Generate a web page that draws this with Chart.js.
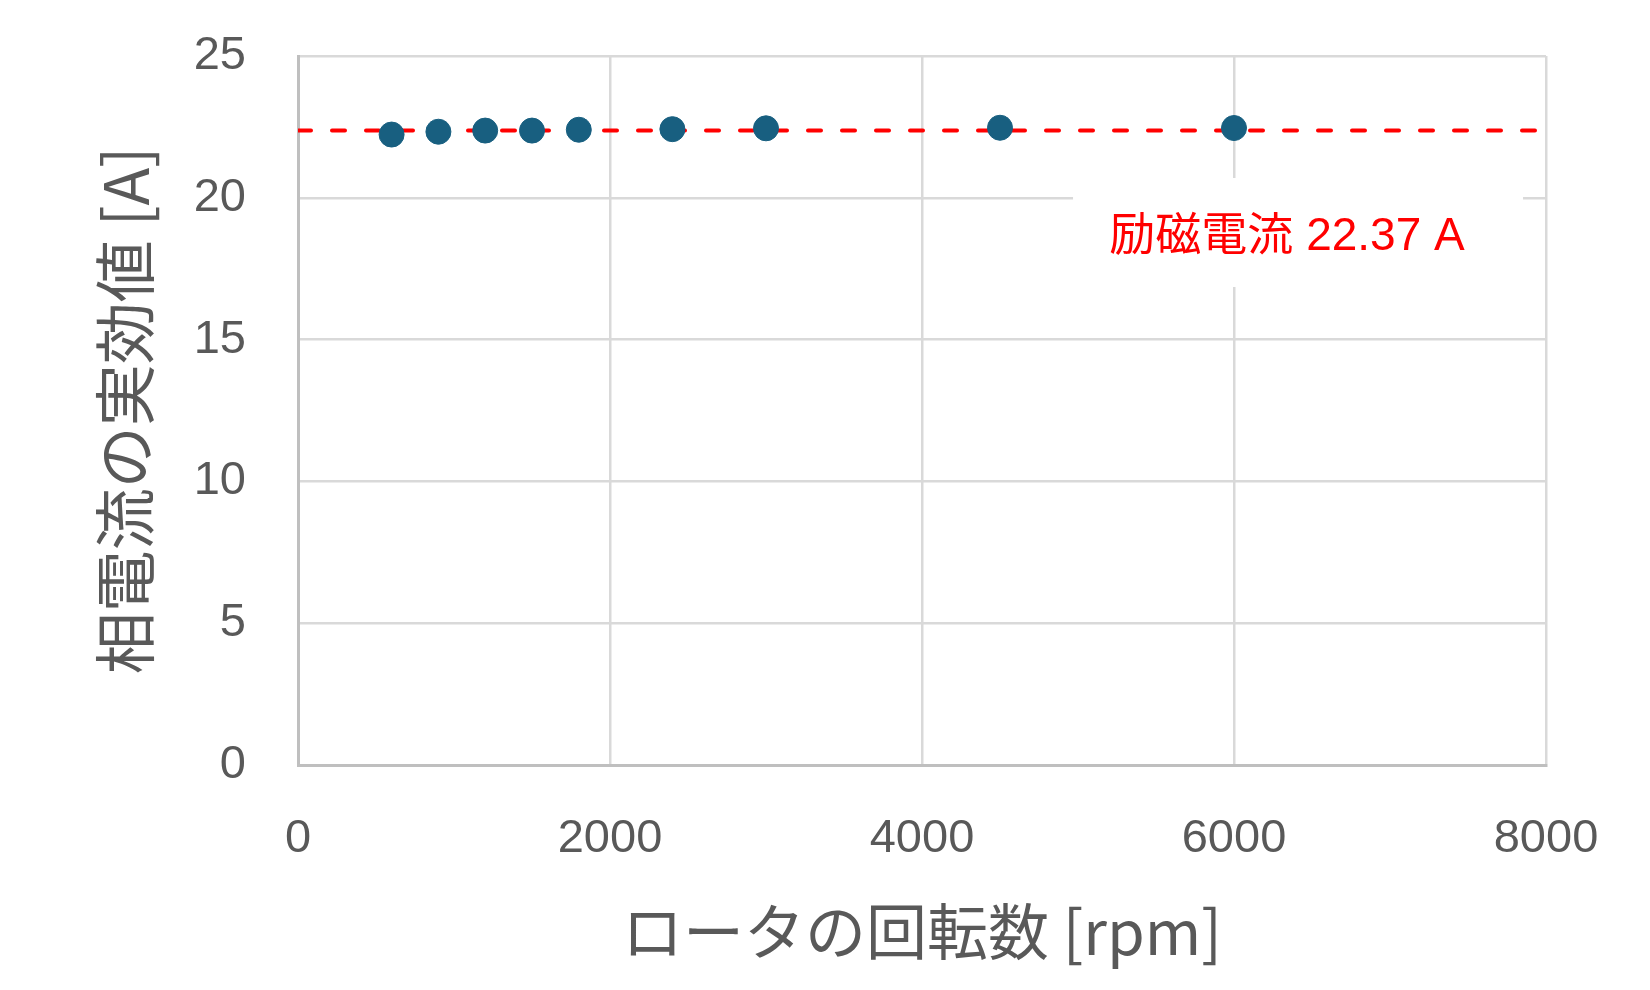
<!DOCTYPE html>
<html>
<head>
<meta charset="utf-8">
<script src="https://cdn.jsdelivr.net/npm/chart.js@4/dist/chart.umd.min.js"></script>
<style>
  html, body { margin: 0; padding: 0; background: #fff; }
  #wrap { width: 1650px; height: 990px; }
</style>
</head>
<body>
<div id="wrap"><canvas id="currentChart" width="1650" height="990"></canvas></div>
<script>
// rotor speed [rpm] and measured RMS phase current [A]
const speeds = [600, 900, 1200, 1500, 1800, 2400, 3000, 4500, 6000];
const phaseCurrent = [22.23, 22.33, 22.37, 22.37, 22.40, 22.42, 22.45, 22.47, 22.46];

// excitation current reference line
const excitationCurrent = 22.37;
const excitationSpan = [0, 8000];

const xTicks = [0, 2000, 4000, 6000, 8000];
const yTicks = [0, 5, 10, 15, 20, 25];

const labelText = '励磁電流 22.37 A';

const FONT = "'Liberation Sans', 'Noto Sans CJK JP', sans-serif";
const TEXT_GREY = '#595959';

// white box + red text for the excitation current note
const notePlugin = {
  id: 'note',
  beforeDatasetsDraw(chart, args, opts) {
    const { ctx, scales } = chart;
    const cx = scales.x.getPixelForValue(opts.x);
    const cy = scales.y.getPixelForValue(opts.y);
    const bx = cx + opts.boxDx, by = cy + opts.boxDy;
    ctx.save();
    ctx.fillStyle = '#ffffff';
    ctx.fillRect(bx - opts.boxW / 2, by - opts.boxH / 2, opts.boxW, opts.boxH);
    ctx.fillStyle = '#ff0000';
    ctx.font = '46px ' + FONT;
    ctx.textAlign = 'center';
    ctx.textBaseline = 'middle';
    ctx.fillText(opts.text, cx, cy);
    ctx.restore();
  }
};

const ctx = document.getElementById('currentChart').getContext('2d');

new Chart(ctx, {
  type: 'scatter',
  data: {
    datasets: [
      {
        label: '相電流',
        data: speeds.map((s, i) => ({ x: s, y: phaseCurrent[i] })),
        backgroundColor: '#185f80',
        borderColor: '#185f80',
        pointRadius: 12.5,
        pointHoverRadius: 12.5,
        order: 0
      },
      {
        label: '励磁電流',
        type: 'line',
        data: excitationSpan.map(x => ({ x: x, y: excitationCurrent })),
        borderColor: '#ff0000',
        borderWidth: 4,
        borderDash: [13, 21],
        borderCapStyle: 'round',
        pointRadius: 0,
        fill: false,
        order: 1
      }
    ]
  },
  plugins: [notePlugin],
  options: {
    responsive: false,
    animation: false,
    events: [],
    layout: { padding: { top: 56, right: 104, left: 0, bottom: 0 } },
    plugins: {
      legend: { display: false },
      tooltip: { enabled: false },
      note: { text: labelText, x: 6340, y: 18.6, boxW: 450, boxH: 109, boxDx: 11, boxDy: -5 }
    },
    scales: {
      x: {
        type: 'linear',
        min: 0,
        max: 8000,
        afterBuildTicks: scale => { scale.ticks = xTicks.map(v => ({ value: v })); },
        afterFit: scale => { scale.height = 225; },
        ticks: {
          color: TEXT_GREY,
          font: { family: FONT, size: 47 },
          padding: 46,
          maxRotation: 0,
          callback: v => String(v)
        },
        grid: { color: '#d9d9d9', lineWidth: 2.5, drawTicks: false },
        border: { color: '#bfbfbf', width: 3 },
        title: {
          display: true,
          text: 'ロータの回転数 [rpm]',
          color: TEXT_GREY,
          font: { family: "'Noto Sans CJK JP', sans-serif", size: 61 },
          padding: { top: 0, bottom: 22 }
        }
      },
      y: {
        type: 'linear',
        min: 0,
        max: 25,
        afterBuildTicks: scale => { scale.ticks = yTicks.map(v => ({ value: v })); },
        afterFit: scale => {
          scale.width = 298;
          // tick padding is horizontal only here; keep it from pushing the plot down
          scale.paddingTop = 0;
          scale.paddingBottom = 0;
        },
        ticks: {
          color: TEXT_GREY,
          font: { family: FONT, size: 47 },
          padding: 52,
          callback: v => String(v)
        },
        grid: { color: '#d9d9d9', lineWidth: 2.5, drawTicks: false },
        border: { color: '#bfbfbf', width: 3 },
        title: {
          display: true,
          text: '相電流の実効値 [A]',
          color: TEXT_GREY,
          font: { family: "'Noto Sans CJK JP', sans-serif", size: 62 },
          padding: { top: 88, bottom: 0 }
        }
      }
    }
  }
});
</script>
</body>
</html>
